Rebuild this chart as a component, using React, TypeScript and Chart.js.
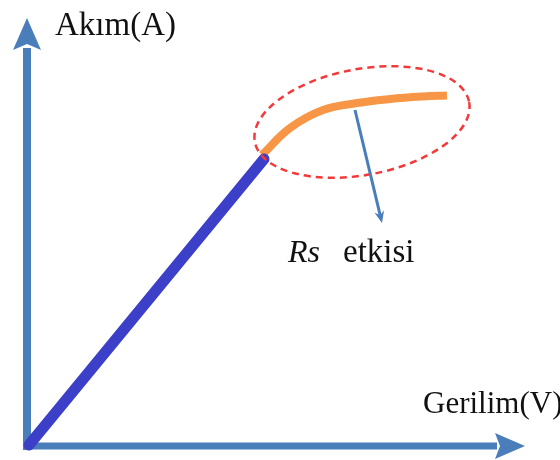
import React, { useEffect, useRef } from "react";
import { Chart, registerables } from "chart.js";

Chart.register(...registerables);

// Schematic units: voltage (V) and current (A), arbitrary
const linearRegionV = [0.1, 23.6];
const linearRegionA = [0.1, 28.7];

const rsRegionV = [23.4, 26.2, 29.5, 32.9, 36.2, 39.5, 41.9];
const rsRegionA = [29.1, 31.8, 33.6, 34.3, 34.7, 34.95, 35.05];

const axisLabels = { y: "Akım(A)", x: "Gerilim(V)" };
const annotationItalic = "Rs";
const annotationText = "etkisi";

const xMin = -2.8, xMax = 53.2;
const yMin = -1.4, yMax = 44.6;

const AXIS_COLOR = "#4A7EBB";

const decorPlugin = {
  id: "decor",
  beforeDatasetsDraw(chart: any) {
    const { ctx, scales } = chart;
    const X = (v: number) => scales.x.getPixelForValue(v);
    const Y = (v: number) => scales.y.getPixelForValue(v);
    ctx.save();
    ctx.strokeStyle = AXIS_COLOR;
    ctx.fillStyle = AXIS_COLOR;
    ctx.lineWidth = 8;
    ctx.lineCap = "butt";
    // vertical axis
    ctx.beginPath();
    ctx.moveTo(X(-0.1), Y(-0.4));
    ctx.lineTo(X(-0.1), Y(39.8));
    ctx.stroke();
    ctx.beginPath();
    ctx.moveTo(X(-0.1), Y(42.8));
    ctx.lineTo(X(-0.1) - 14, Y(39.6));
    ctx.lineTo(X(-0.1), Y(40.2));
    ctx.lineTo(X(-0.1) + 14, Y(39.6));
    ctx.closePath();
    ctx.fill();
    // horizontal axis
    ctx.lineWidth = 7;
    ctx.beginPath();
    ctx.moveTo(X(-0.5), Y(0));
    ctx.lineTo(X(46.9), Y(0));
    ctx.stroke();
    ctx.beginPath();
    ctx.moveTo(X(49.7), Y(0));
    ctx.lineTo(X(46.7), Y(0) - 13);
    ctx.lineTo(X(47.2), Y(0));
    ctx.lineTo(X(46.7), Y(0) + 13);
    ctx.closePath();
    ctx.fill();
    ctx.restore();
  },
  afterDatasetsDraw(chart: any) {
    const { ctx, scales } = chart;
    const X = (v: number) => scales.x.getPixelForValue(v);
    const Y = (v: number) => scales.y.getPixelForValue(v);
    ctx.save();
    // dashed ellipse
    ctx.strokeStyle = "#F23A3A";
    ctx.lineWidth = 2.5;
    ctx.setLineDash([7, 5]);
    ctx.beginPath();
    ctx.ellipse(X(33.4), Y(32.4), 109, 53, (-10.5 * Math.PI) / 180, 0, Math.PI * 2);
    ctx.stroke();
    ctx.setLineDash([]);
    // pointer arrow
    const x0 = X(32.7), y0 = Y(33.6), x1 = X(35.4), y1 = Y(22.3);
    const ang = Math.atan2(y1 - y0, x1 - x0);
    ctx.strokeStyle = AXIS_COLOR;
    ctx.fillStyle = AXIS_COLOR;
    ctx.lineWidth = 3;
    ctx.beginPath();
    ctx.moveTo(x0, y0);
    ctx.lineTo(x1 - 8 * Math.cos(ang), y1 - 8 * Math.sin(ang));
    ctx.stroke();
    ctx.beginPath();
    ctx.moveTo(x1, y1);
    ctx.lineTo(x1 - 12 * Math.cos(ang) + 5 * Math.sin(ang), y1 - 12 * Math.sin(ang) - 5 * Math.cos(ang));
    ctx.lineTo(x1 - 8 * Math.cos(ang), y1 - 8 * Math.sin(ang));
    ctx.lineTo(x1 - 12 * Math.cos(ang) - 5 * Math.sin(ang), y1 - 12 * Math.sin(ang) + 5 * Math.cos(ang));
    ctx.closePath();
    ctx.fill();
    // texts
    ctx.fillStyle = "#111111";
    ctx.textBaseline = "alphabetic";
    ctx.textAlign = "left";
    ctx.font = '33px "Liberation Serif", "Times New Roman", serif';
    ctx.fillText(axisLabels.y, 55, 35);
    ctx.font = '31px "Liberation Serif", "Times New Roman", serif';
    ctx.fillText(axisLabels.x, 423, 413);
    ctx.font = 'italic 32px "Liberation Serif", "Times New Roman", serif';
    ctx.fillText(annotationItalic, 288, 262);
    ctx.font = '33px "Liberation Serif", "Times New Roman", serif';
    ctx.fillText(annotationText, 343, 262);
    ctx.restore();
  },
};

export default function App() {
  const ref = useRef<HTMLCanvasElement>(null);
  useEffect(() => {
    if (!ref.current) return;
    const chart = new Chart(ref.current, {
      type: "line",
      data: {
        datasets: [
          {
            data: linearRegionV.map((v, i) => ({ x: v, y: linearRegionA[i] })),
            borderColor: "#3C3FC8",
            borderWidth: 11,
            borderCapStyle: "round",
            pointRadius: 0,
            fill: false,
          },
          {
            data: rsRegionV.map((v, i) => ({ x: v, y: rsRegionA[i] })),
            borderColor: "#F79646",
            borderWidth: 8,
            borderCapStyle: "butt",
            tension: 0.4,
            pointRadius: 0,
            fill: false,
          },
        ],
      },
      options: {
        responsive: false,
        maintainAspectRatio: false,
        animation: false,
        layout: { padding: 0 },
        plugins: { legend: { display: false }, tooltip: { enabled: false } },
        scales: {
          x: { type: "linear", min: xMin, max: xMax, display: false },
          y: { type: "linear", min: yMin, max: yMax, display: false },
        },
      },
      plugins: [decorPlugin],
    } as any);
    return () => chart.destroy();
  }, []);
  return (
    <div style={{ position: "fixed", left: 0, top: 0, width: 560, height: 460, background: "#fff" }}>
      <canvas ref={ref} width={560} height={460} />
    </div>
  );
}
